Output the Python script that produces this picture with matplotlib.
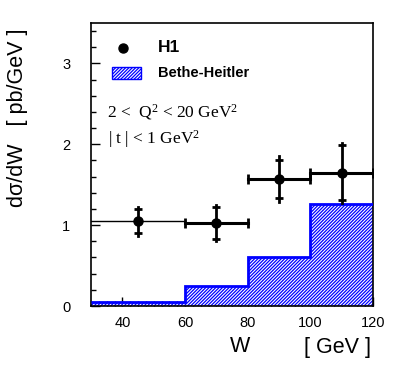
import matplotlib
matplotlib.use("Agg")
import matplotlib.pyplot as plt
from matplotlib.patches import Rectangle
from matplotlib.ticker import MultipleLocator

# ---- data ----
W = [45, 70, 90, 110]
W_lo = [30, 60, 80, 100]
W_hi = [60, 80, 100, 120]
sigma = [1.05, 1.03, 1.57, 1.65]
stat_err = [0.15, 0.20, 0.23, 0.34]
tot_err = [0.18, 0.22, 0.28, 0.37]

bh_edges = [30, 60, 80, 100, 120]
bh_values = [0.05, 0.25, 0.61, 1.26]

x_ticks = [40, 60, 80, 100, 120]
y_ticks = [0, 1, 2, 3]

plt.rcParams['font.family'] = ['Liberation Sans', 'DejaVu Sans']
plt.rcParams['hatch.linewidth'] = 0.9
plt.rcParams['mathtext.fontset'] = 'custom'
plt.rcParams['mathtext.rm'] = 'Liberation Serif'
plt.rcParams['mathtext.it'] = 'Liberation Serif:italic'
plt.rcParams['mathtext.bf'] = 'Liberation Serif:bold'

FW, FH = 399, 378
fig = plt.figure(figsize=(FW / 100, FH / 100), dpi=100)
ax = fig.add_axes([91 / FW, 1 - 306 / FH, (373 - 91) / FW, (306 - 23) / FH])
ax.set_xlim(30, 120)
ax.set_ylim(0, 3.5)

HATCH = '//////////'

# Bethe-Heitler histogram
ax.stairs(bh_values, bh_edges, fill=True, facecolor='white', edgecolor='#0000ff',
          hatch=HATCH, linewidth=0, zorder=2)
ax.stairs(bh_values, bh_edges, fill=False, color='#0000ff', linewidth=2.0,
          baseline=None, zorder=3)

# data points
for i in range(len(W)):
    thin = (i == 0)
    lw = 1.0 if thin else 2.2
    ax.plot([W_lo[i], W_hi[i]], [sigma[i], sigma[i]], color='black', lw=lw, zorder=5)
    if not thin:
        ax.plot([W_lo[i], W_hi[i]], [sigma[i], sigma[i]], color='black', lw=0,
                marker='|', markersize=7, markeredgewidth=2.0, zorder=5)
    ax.plot([W[i], W[i]], [sigma[i] - tot_err[i], sigma[i] + tot_err[i]],
            color='black', lw=2.0, zorder=5)
    ax.plot([W[i], W[i]], [sigma[i] - stat_err[i], sigma[i] + stat_err[i]],
            color='black', lw=0, marker='_', markersize=6, markeredgewidth=2.0, zorder=5)
ax.plot(W, sigma, 'o', color='black', markersize=6.5, zorder=6, clip_on=False)

# axes styling
for s in ['top', 'right', 'left', 'bottom']:
    ax.spines[s].set_linewidth(1.2)
ax.set_xticks(x_ticks)
ax.set_yticks(y_ticks)
ax.xaxis.set_minor_locator(MultipleLocator(2.5))
ax.yaxis.set_minor_locator(MultipleLocator(0.2))
ax.tick_params(which='both', direction='in', top=False, right=False, width=1.0)
ax.tick_params(which='major', length=6.5)
ax.tick_params(which='minor', length=3.5)
ax.tick_params(axis='y', which='major', pad=15, labelsize=10.5)
ax.tick_params(axis='x', which='major', pad=7, labelsize=10.5)

def ft(x, y, s, **kw):
    fig.text(x / FW, 1 - y / FH, s, **kw)

# axis labels
ft(18, 118, 'dσ/dW   [ pb/GeV ]', rotation=90, ha='center', va='center', fontsize=15.5)
ft(240, 347, 'W', ha='center', va='center', fontsize=15.5)
ft(338, 347, '[ GeV ]', ha='center', va='center', fontsize=15.5)

# legend
fig.lines.append(plt.Line2D([123 / FW], [1 - 48 / FH], marker='o', color='black',
                            markersize=6.5, transform=fig.transFigure))
ft(158, 48, 'H1', ha='left', va='center', fontsize=12.5, fontweight='bold')
rect = Rectangle((112 / FW, 1 - 79 / FH), 29 / FW, 12 / FH, transform=fig.transFigure,
                 facecolor='white', edgecolor='#0000ff', hatch=HATCH, linewidth=1.0)
fig.patches.append(rect)
ft(158, 73, 'Bethe-Heitler', ha='left', va='center', fontsize=10.5, fontweight='bold')

serif = ['Liberation Serif', 'DejaVu Serif']
ft(107, 112, '2 <  Q$^2$ < 20 GeV$^2$', ha='left', va='center', fontsize=12.5, family=serif)
ft(108, 139, '| t | < 1 GeV$^2$', ha='left', va='center', fontsize=12.5, family=serif)

fig.savefig('out.png', dpi=100)
